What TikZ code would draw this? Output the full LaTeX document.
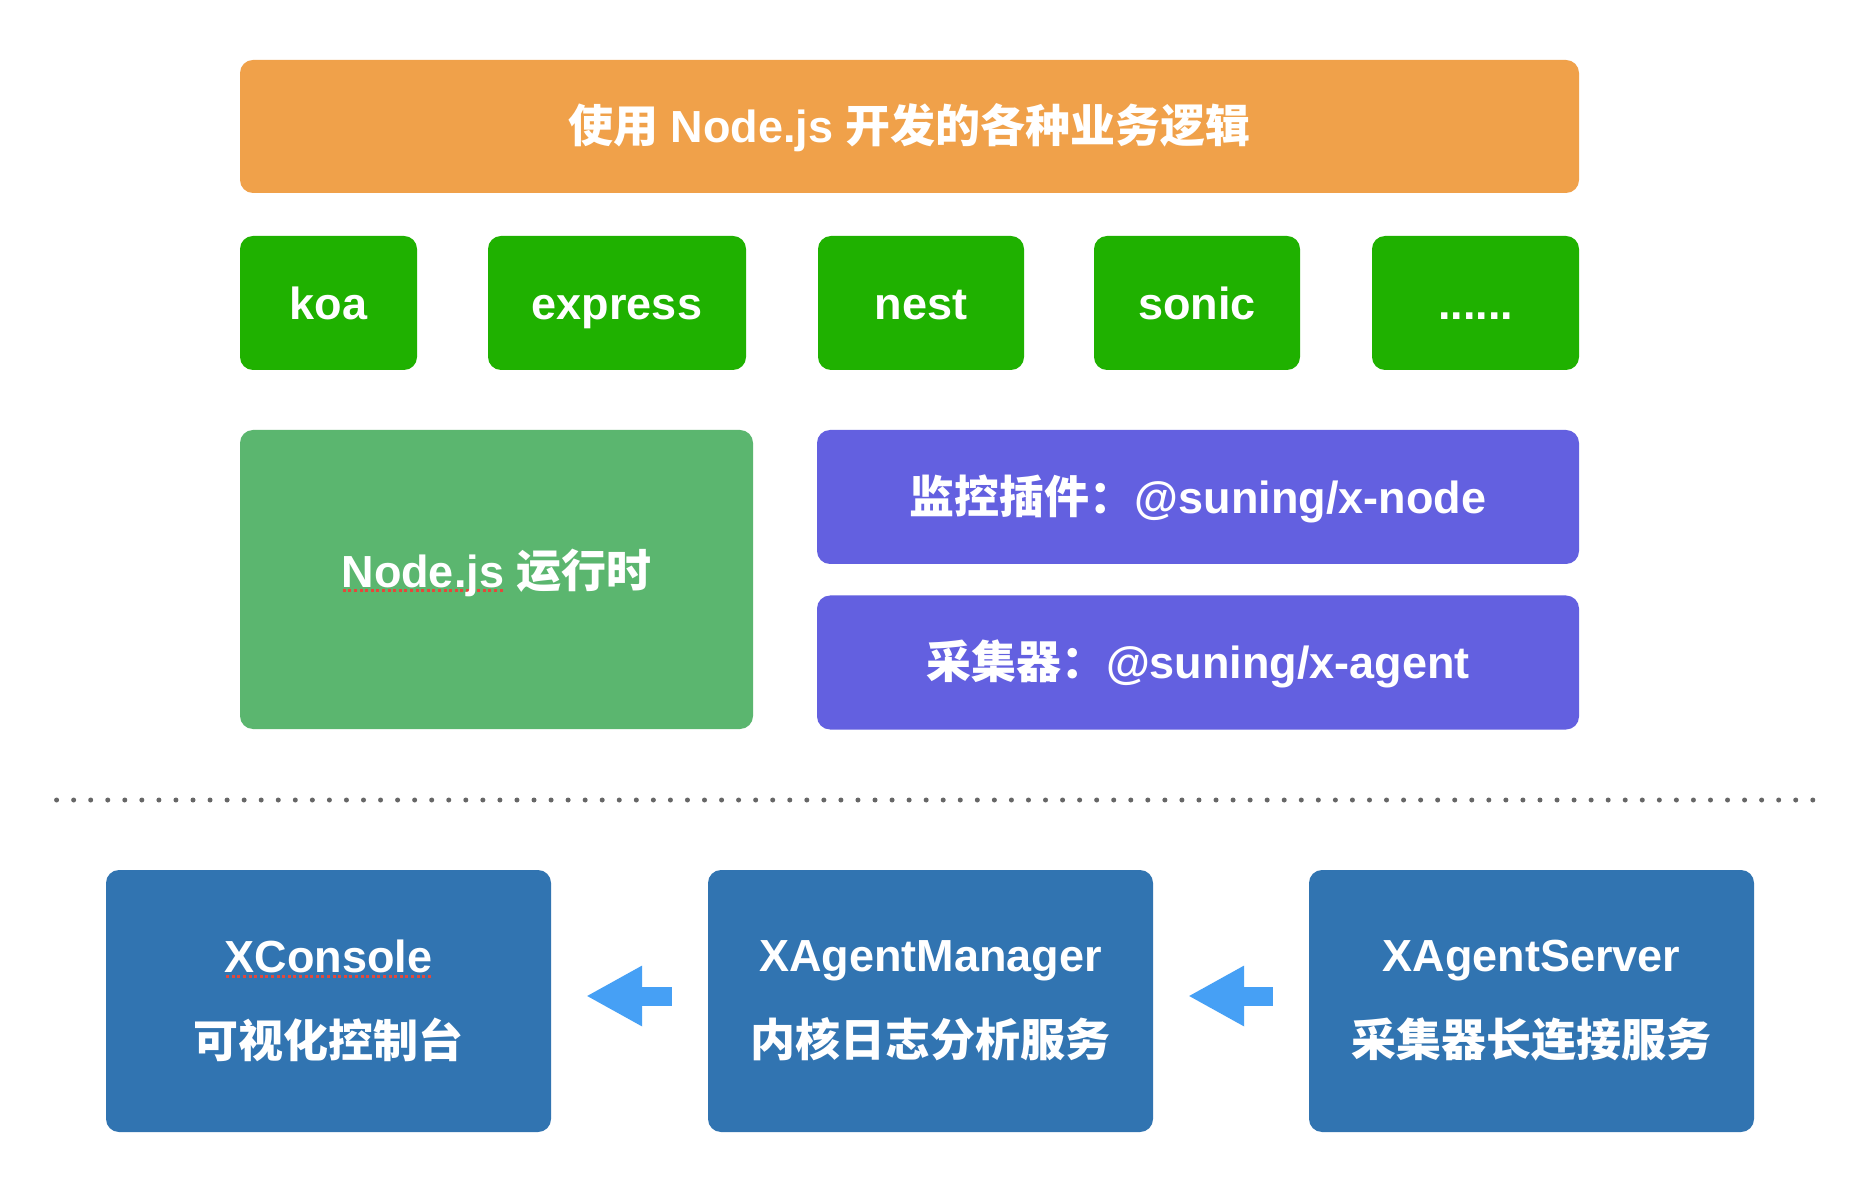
\documentclass[tikz,border=0pt]{standalone}
\usepackage{fontspec}
\setmainfont{Liberation Sans}
\newfontfamily\cjk{Noto Sans CJK SC}
\usepackage{tikz}
\usetikzlibrary{arrows.meta, backgrounds}

\definecolor{bizorange}{HTML}{F0A14A}
\definecolor{fwgreen}{HTML}{1FB100}
\definecolor{rungreen}{HTML}{5BB66F}
\definecolor{plugviolet}{HTML}{6360E0}
\definecolor{svcblue}{HTML}{3174B1}
\definecolor{flowblue}{HTML}{46A0F5}
\definecolor{sepgray}{HTML}{666666}
\definecolor{spellred}{HTML}{E5483B}

\newsavebox{\spellbox}
\newcommand{\spellmark}[1]{\sbox{\spellbox}{#1}%
  \rlap{\raisebox{-0.05cm}{\textcolor{spellred}{\hbox to \wd\spellbox{\xleaders\hbox to 0.055cm{\hss\rule{0.03cm}{0.03cm}\hss}\hfil}}}}%
  \usebox{\spellbox}}

\begin{document}
\begin{tikzpicture}
  \tikzset{background rectangle/.style={fill=white}}
  \tikzset{inner frame sep=0pt, show background rectangle}

  \tikzset{box/.style={rectangle, rounded corners=0.13cm, inner sep=0pt, text=white, align=center,
      font=\fontsize{12.8}{24.2}\selectfont\bfseries}}
  \tikzset{oneline/.style={text height=11.5pt, text depth=2.34pt}}
  \tikzset{bizbox/.style={box, oneline, fill=bizorange, minimum width=13.39cm, minimum height=1.33cm}}
  \tikzset{fwbox/.style={box, oneline, fill=fwgreen, minimum height=1.34cm}}
  \tikzset{runbox/.style={box, oneline, text depth=7.1pt, fill=rungreen, minimum width=5.13cm, minimum height=2.99cm}}
  \tikzset{plugbox/.style={box, oneline, fill=plugviolet, minimum width=7.62cm, minimum height=1.34cm}}
  \tikzset{svcbox/.style={box, fill=svcblue, minimum width=4.45cm, minimum height=2.62cm}}
  \tikzset{flow/.style={draw=flowblue, line width=0.19cm, shorten >=0.355cm, shorten <=0.355cm,
      -{Triangle[length=0.55cm, width=0.61cm, line width=0pt]}}}

  \useasboundingbox (0,0) rectangle (18.68,-11.90);

  \node[bizbox] (logic) at (9.095,-1.265) {{\cjk 使用} Node.js {\cjk 开发的各种业务逻辑}};

  \node[fwbox, minimum width=1.77cm] (koa) at (3.285,-3.03) {koa};
  \node[fwbox, minimum width=2.58cm] (express) at (6.17,-3.03) {express};
  \node[fwbox, minimum width=2.06cm] (nest) at (9.21,-3.03) {nest};
  \node[fwbox, minimum width=2.06cm] (sonic) at (11.97,-3.03) {sonic};
  \node[fwbox, minimum width=2.07cm] (more) at (14.755,-3.03) {......};

  \node[runbox] (runtime) at (4.965,-5.795) {\spellmark{Node.js} {\cjk 运行时}};
  \node[plugbox] (xnode) at (11.98,-4.97) {{\cjk 监控插件：}@suning/x-node};
  \node[plugbox] (xagent) at (11.98,-6.625) {{\cjk 采集器：}@suning/x-agent};

  \draw[sepgray, line width=0.05cm, line cap=round, dash pattern=on 0pt off 0.1705cm]
    (0.566,-8.0) -- (18.14,-8.0);

  \node[svcbox] (console) at (3.285,-10.01) {\spellmark{XConsole}\\{\cjk 可视化控制台}};
  \node[svcbox] (manager) at (9.305,-10.01) {XAgentManager\\{\cjk 内核日志分析服务}};
  \node[svcbox] (server) at (15.315,-10.01) {XAgentServer\\{\cjk 采集器长连接服务}};

  \draw[flow] ([yshift=0.05cm]manager.west) -- ([yshift=0.05cm]console.east);
  \draw[flow] ([yshift=0.05cm]server.west) -- ([yshift=0.05cm]manager.east);
\end{tikzpicture}
\end{document}
